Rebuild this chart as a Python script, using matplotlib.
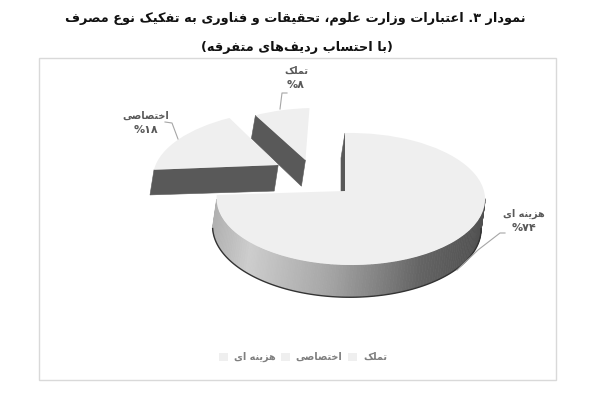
import numpy as np
import matplotlib
matplotlib.use("Agg")
import matplotlib.pyplot as plt
from matplotlib.transforms import Transform
from matplotlib.patches import Rectangle

categories = ["هزینه ای", "اختصاصی", "تملک"]
values = [74, 18, 8]
value_labels = ["۷۴%", "۱۸%", "۸%"]
title_lines = ["نمودار ۳. اعتبارات وزارت علوم، تحقیقات و فناوری به تفکیک نوع مصرف",
               "(با احتساب ردیف‌های متفرقه)"]
offset_x = [0.0, -0.54, -0.32]
offset_y = [0.0, 0.43, 0.51]
slice_radius = [1.0, 1.06, 1.02]

# ---- minimal Arabic/Persian shaping (matplotlib has no shaper) ----
DUAL = {'ب':0xFE8F,'پ':0xFB56,'ت':0xFE95,'ث':0xFE99,'ج':0xFE9D,'چ':0xFB7A,'ح':0xFEA1,'خ':0xFEA5,
        'س':0xFEB1,'ش':0xFEB5,'ص':0xFEB9,'ض':0xFEBD,'ط':0xFEC1,'ظ':0xFEC5,'ع':0xFEC9,'غ':0xFECD,
        'ف':0xFED1,'ق':0xFED5,'ک':0xFB8E,'گ':0xFB92,'ل':0xFEDD,'م':0xFEE1,'ن':0xFEE5,'ه':0xFEE9,'ی':0xFBFC}
RIGHT = {'ا':0xFE8D,'د':0xFEA9,'ذ':0xFEAB,'ر':0xFEAD,'ز':0xFEAF,'ژ':0xFB8A,'و':0xFEED}
DIGITS = "۰۱۲۳۴۵۶۷۸۹"
MIRROR = {'(':')', ')':'('}

def shape(s):
    out = []
    n = len(s)
    for i, c in enumerate(s):
        if c == '\u200c':
            continue
        prev = s[i-1] if i > 0 else ''
        nxt = s[i+1] if i < n-1 else ''
        jp = prev in DUAL
        if c in DUAL:
            jn = nxt in DUAL or nxt in RIGHT
            idx = 3 if (jp and jn) else 1 if jp else 2 if jn else 0
            out.append(chr(DUAL[c] + idx))
        elif c in RIGHT:
            out.append(chr(RIGHT[c] + (1 if jp else 0)))
        else:
            out.append(MIRROR.get(c, c))
    vis = out[::-1]
    res, run = [], []
    for c in vis:
        if c in DIGITS:
            run.append(c)
        else:
            res.extend(run[::-1]); run = []
            res.append(c)
    res.extend(run[::-1])
    return ''.join(res)

# ---- oblique projection with perspective: pie units -> pixels ----
CX, CY, RX, RY = 345.0, 191.0, 133.0, 65.0
KY, KX, DEPTH, SHIFT = 0.121, -0.043, 28.0, 4.0

def project(x, y, z=0.0):
    x, y, z = np.asarray(x, float), np.asarray(y, float), np.asarray(z, float)
    s = 1.0 / (1.0 + KY * y + KX * x)
    return CX + RX * x * s + SHIFT * z, CY - RY * y * s - DEPTH * z * s

class Persp(Transform):
    input_dims = output_dims = 2
    is_separable = False
    has_inverse = False
    def transform_non_affine(self, xy):
        px, py = project(xy[:, 0], xy[:, 1])
        return np.column_stack([px, py])

plt.rcParams['font.family'] = ['DejaVu Sans']
fig = plt.figure(figsize=(6, 4), dpi=100, facecolor='white')
ax = fig.add_axes([0, 0, 1, 1])

TOP = '#efefef'
CUT = '#595959'
wedges, _ = ax.pie(values, startangle=90, counterclock=False, radius=1,
                   colors=[TOP] * 3, wedgeprops=dict(linewidth=0))
ax.set_aspect('auto')
ax.set_xlim(0, 600)
ax.set_ylim(400, 0)
ax.axis('off')

ax.add_patch(Rectangle((39, 58), 517, 322, fill=False, ec='#d9d9d9', lw=1, zorder=0))

persp = Persp()
grad_x = [215, 250, 330, 420, 486]
grad_v = [175, 205, 165, 100, 80]

def grey(px):
    v = np.interp(px, grad_x, grad_v) / 255
    return (v, v, v)

z = 10
# back slices first, main slice last
for i in [2, 1, 0]:
    w = wedges[i]
    ox, oy, r = offset_x[i], offset_y[i], slice_radius[i]
    w.set_center((ox, oy))
    w.set_radius(r)
    w.set_transform(persp + ax.transData)
    t1, t2 = np.radians(w.theta1), np.radians(w.theta2)
    # outer wall
    th = np.linspace(t1, t2, 200)
    rx_, ry_ = ox + r * np.cos(th), oy + r * np.sin(th)
    tx, ty = project(rx_, ry_, 0)
    bx, by = project(rx_, ry_, -1)
    for k in range(len(th) - 1):
        if tx[k + 1] > tx[k]:
            c = grey(tx[k])
            ax.fill([tx[k], tx[k+1], bx[k+1], bx[k]], [ty[k], ty[k+1], by[k+1], by[k]],
                    fc=c, ec=c, lw=0.5, zorder=z)
    vis = tx[1:] > tx[:-1]
    if i == 0:
        ax.plot(bx[1:][vis], by[1:][vis] + 0.3, color='#333333', lw=1.0, zorder=z + 1)
    # flat cut faces
    for t, sign in ((t1, -1), (t2, 1)):
        xs = np.array([ox, ox + r * np.cos(t), ox + r * np.cos(t), ox])
        ys = np.array([oy, oy + r * np.sin(t), oy + r * np.sin(t), oy])
        zs = np.array([0, 0, -1, -1])
        px, py = project(xs, ys, zs)
        area = 0.5 * np.sum(px * np.roll(py, -1) - np.roll(px, -1) * py)
        if area * sign < 0:
            ax.fill(px, py, fc=CUT, ec=CUT, lw=0.4, zorder=z + 1)
    w.set_zorder(z + 2)
    w.set_edgecolor(TOP)
    z += 10

LBL = '#595959'
label_pos = [(524, 214), (146, 116), (296, 71)]
for c, v, (x, y) in zip(categories, value_labels, label_pos):
    ax.text(x, y, shape(c), ha='center', va='center', fontsize=7, fontweight='bold', color=LBL, zorder=50)
    ax.text(x, y + 14, shape(v), ha='center', va='center', fontsize=8, fontweight='bold', color=LBL, zorder=50)

leaders = [([457, 478, 500, 505], [270, 250, 233, 233]),
           ([178, 172, 165], [139, 123, 122]),
           ([280, 282, 287], [109, 93, 93])]
for lx, ly in leaders:
    ax.plot(lx, ly, color='#a6a6a6', lw=0.8, zorder=49)

ax.text(295, 18, shape(title_lines[0]), ha='center', va='center', fontsize=9.3, fontweight='bold', color='#111111')
ax.text(297, 47, shape(title_lines[1]), ha='center', va='center', fontsize=9.3, fontweight='bold', color='#111111')

ax.legend(wedges, [shape(c) for c in categories], ncols=3, frameon=False,
          loc='center', bbox_to_anchor=(303 / 600, 1 - 357 / 400), bbox_transform=fig.transFigure,
          prop=dict(size=7, weight='bold'), labelcolor='#7f7f7f', handlelength=0.9, handleheight=0.9,
          handletextpad=0.6, columnspacing=0.6)

fig.savefig('out.png', dpi=100)
